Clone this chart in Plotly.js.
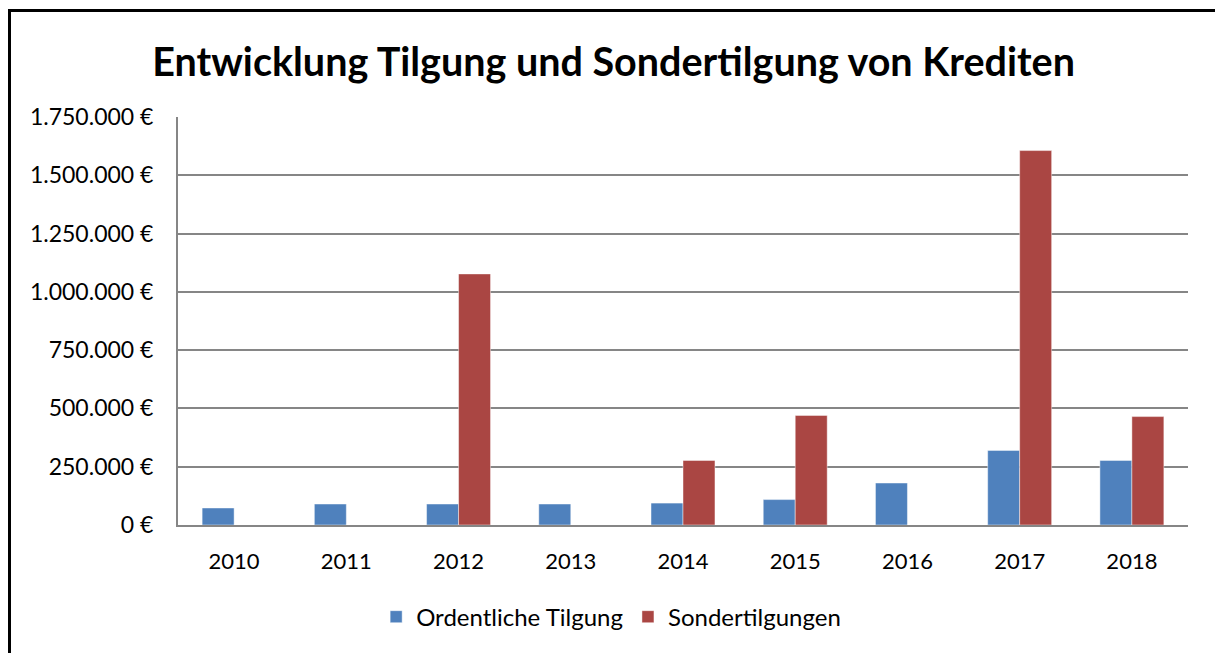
<!DOCTYPE html>
<html>
<head>
<meta charset="utf-8">
<script src="https://cdn.plot.ly/plotly-3.0.1.min.js"></script>
<style>
html,body{margin:0;padding:0;background:#fff;}
#chart{width:1215px;height:653px;}
#frame{position:absolute;left:8px;top:9px;width:1210px;height:650px;border-left:3px solid #000;border-top:3px solid #000;pointer-events:none;}
</style>
</head>
<body>
<div id="chart"></div>
<div id="frame"></div>
<script>
const years = ['2010','2011','2012','2013','2014','2015','2016','2017','2018'];
const ordentlicheTilgung = [73000, 90000, 90000, 90000, 94000, 109000, 180000, 320000, 277000];
const sondertilgungen = [0, 0, 1077000, 0, 277000, 470000, 0, 1606000, 465000];
const yTickVals = [0, 250000, 500000, 750000, 1000000, 1250000, 1500000, 1750000];
const yTickLabels = ['0 \u20AC', '250.000 \u20AC', '500.000 \u20AC', '750.000 \u20AC', '1.000.000 \u20AC', '1.250.000 \u20AC', '1.500.000 \u20AC', '1.750.000 \u20AC'];

const font = 'Lato, "Noto Sans", sans-serif';
const traces = [
  {type:'bar', name:'Ordentliche Tilgung', x:years, y:ordentlicheTilgung, marker:{color:'#4F81BD', line:{color:'rgba(255,255,255,0.45)', width:1}}},
  {type:'bar', name:'Sondertilgungen', x:years, y:sondertilgungen, marker:{color:'#AA4643', line:{color:'rgba(255,255,255,0.45)', width:1}}}
];
const layout = {
  width:1215, height:653,
  margin:{l:178, r:27, t:117, b:128},
  paper_bgcolor:'#fff', plot_bgcolor:'#fff',
  font:{family:font, size:22, color:'#000'},
  title:{text:'<b>Entwicklung Tilgung und Sondertilgung von Krediten</b>', x:0.505, xref:'container', y:0.905, yref:'container', yanchor:'middle', font:{family:font, size:39.5, color:'#000'}},
  barmode:'group', bargap:0.43, bargroupgap:0,
  xaxis:{type:'category', showline:true, linecolor:'#868686', linewidth:2, ticks:'', ticklabelstandoff:16, tickfont:{size:22}},
  yaxis:{range:[0,1750000], tickvals:yTickVals, ticktext:yTickLabels, showgrid:true, gridcolor:'#868686', gridwidth:2, showline:true, linecolor:'#868686', linewidth:2, zeroline:false, ticks:'', ticklabelstandoff:18, tickfont:{size:23}},
  legend:{orientation:'h', xref:'container', x:0.503, xanchor:'center', yref:'container', y:0.055, yanchor:'middle', font:{size:24}, itemwidth:30, traceorder:'normal'},
  showlegend:true
};
Plotly.newPlot('chart', traces, layout, {displayModeBar:false, staticPlot:true});
</script>
</body>
</html>
